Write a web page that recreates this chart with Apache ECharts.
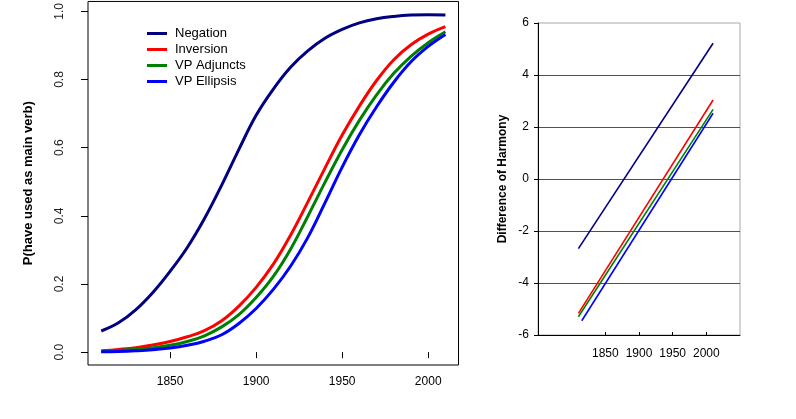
<!DOCTYPE html>
<html>
<head>
<meta charset="utf-8">
<script src="https://cdn.jsdelivr.net/npm/echarts@6/dist/echarts.min.js"></script>
<style>
html,body{margin:0;padding:0;background:#fff;}
#c{width:796px;height:419px;}
</style>
</head>
<body>
<div id="c"></div>
<script>
// ---- data ----
const years = [1810,1820,1830,1840,1850,1860,1870,1880,1890,1900,1910,1920,1930,1940,1950,1960,1970,1980,1990,2000,2010];
const negationP  = [0.062,0.086,0.124,0.175,0.237,0.307,0.392,0.490,0.595,0.695,0.772,0.836,0.884,0.921,0.947,0.966,0.978,0.985,0.989,0.990,0.989];
const inversionP = [0.004,0.008,0.013,0.021,0.031,0.045,0.063,0.092,0.135,0.190,0.258,0.343,0.440,0.540,0.637,0.722,0.797,0.858,0.902,0.933,0.955];
const adjunctsP  = [0.002,0.005,0.008,0.013,0.020,0.031,0.048,0.074,0.110,0.160,0.222,0.302,0.398,0.498,0.594,0.680,0.755,0.818,0.868,0.908,0.940];
const ellipsisP  = [0.001,0.002,0.004,0.007,0.012,0.020,0.032,0.051,0.084,0.128,0.184,0.252,0.336,0.438,0.543,0.638,0.720,0.792,0.852,0.897,0.932];

const harmonyYears    = [1810, 2010];
const ellipsisYears   = [1815, 2010];
const negationH  = [-2.68, 5.22];
const inversionH = [-5.17, 3.04];
const adjunctsH  = [-5.30, 2.68];
const ellipsisH  = [-5.45, 2.53];

const seriesNames = ['Negation','Inversion','VP Adjuncts','VP Ellipsis'];
const seriesColors = ['#000080','#ff0000','#008000','#0000ff'];

const leftXTicks = [1850,1900,1950,2000];
const leftYTicks = [0,0.2,0.4,0.6,0.8,1.0];
const rightXTicks = [1850,1900,1950,2000];

// ---- build ----
const pair = (xs, ys) => xs.map((x,i)=>[x, ys[i]]);
const leftData = [negationP, inversionP, adjunctsP, ellipsisP];
const rightData = [pair(harmonyYears,negationH), pair(harmonyYears,inversionH), pair(harmonyYears,adjunctsH), pair(ellipsisYears,ellipsisH)];

const FONT = "'Liberation Sans', Arial, sans-serif";
const series = [];
seriesNames.forEach((n,i)=>{
  series.push({
    name:n, type:'line', xAxisIndex:0, yAxisIndex:0,
    data: pair(years, leftData[i]), smooth:0.4, showSymbol:false, symbol:'none',
    lineStyle:{width:3, color:seriesColors[i]}, itemStyle:{color:seriesColors[i]}, z:2+i
  });
});
seriesNames.forEach((n,i)=>{
  series.push({
    name:n, type:'line', xAxisIndex:1, yAxisIndex:1,
    data: rightData[i], showSymbol:false, symbol:'none',
    lineStyle:{width:1.6, color:seriesColors[i]}, itemStyle:{color:seriesColors[i]}, z:2+i
  });
});

const chart = echarts.init(document.getElementById('c'), null, {renderer:'canvas'});
chart.setOption({
  animation:false,
  backgroundColor:'#fff',
  textStyle:{fontFamily:FONT},
  legend:{
    orient:'vertical', left:147, top:27, padding:0, itemWidth:20, itemHeight:3, itemGap:3,
    icon:'rect', data:seriesNames,
    textStyle:{fontSize:13, color:'#000', fontFamily:FONT, lineHeight:13, padding:[0,0,0,3]}
  },
  grid:[
    {left:88, right:337.5, top:-2, bottom:54, show:true, borderColor:'#000', borderWidth:1, backgroundColor:'transparent'},
    {left:538, right:56, top:23, bottom:84, show:true, borderColor:'#a8a8a8', borderWidth:1, backgroundColor:'transparent'}
  ],
  xAxis:[
    {type:'value', gridIndex:0, min:1802.3, max:2017.6,
     axisLine:{show:false},
     axisTick:{show:true, customValues:leftXTicks, length:6, lineStyle:{color:'#000'}},
     axisLabel:{customValues:leftXTicks, fontSize:12, color:'#000', margin:11, fontFamily:FONT, formatter:v=>String(v)},
     splitLine:{show:false}},
    {type:'value', gridIndex:1, min:1750, max:2050,
     axisLine:{show:true, onZero:false, lineStyle:{color:'#000', width:1}},
     axisTick:{show:true, customValues:rightXTicks, inside:true, length:3, lineStyle:{color:'#000'}},
     axisLabel:{customValues:rightXTicks, fontSize:12, color:'#000', margin:13, fontFamily:FONT, formatter:v=>String(v)},
     splitLine:{show:false}}
  ],
  yAxis:[
    {type:'value', gridIndex:0, min:-0.0378, max:1.029,
     name:'P(have used as main verb)', nameLocation:'middle', nameGap:53,
     nameTextStyle:{fontSize:13, fontWeight:'bold', color:'#000', fontFamily:FONT},
     axisLine:{show:false},
     axisTick:{show:true, customValues:leftYTicks, length:7, lineStyle:{color:'#000'}},
     axisLabel:{customValues:leftYTicks, rotate:90, fontSize:12, color:'#222', margin:22,
       fontFamily:"'Liberation Sans Narrow', 'Liberation Sans', Arial, sans-serif",
       formatter:v=>v.toFixed(1)},
     splitLine:{show:false}},
    {type:'value', gridIndex:1, min:-6, max:6, interval:2,
     name:'Difference of Harmony', nameLocation:'middle', nameGap:29,
     nameTextStyle:{fontSize:12, fontWeight:'bold', color:'#000', fontFamily:FONT},
     axisLine:{show:true, onZero:false, lineStyle:{color:'#000', width:1}},
     axisTick:{show:true, length:4, lineStyle:{color:'#000'}},
     axisLabel:{fontSize:12, color:'#000', margin:9, fontFamily:FONT},
     splitLine:{show:true, showMaxLine:false, showMinLine:false, lineStyle:{color:'#505050', width:1}}}
  ],
  series:series
});
</script>
</body>
</html>
